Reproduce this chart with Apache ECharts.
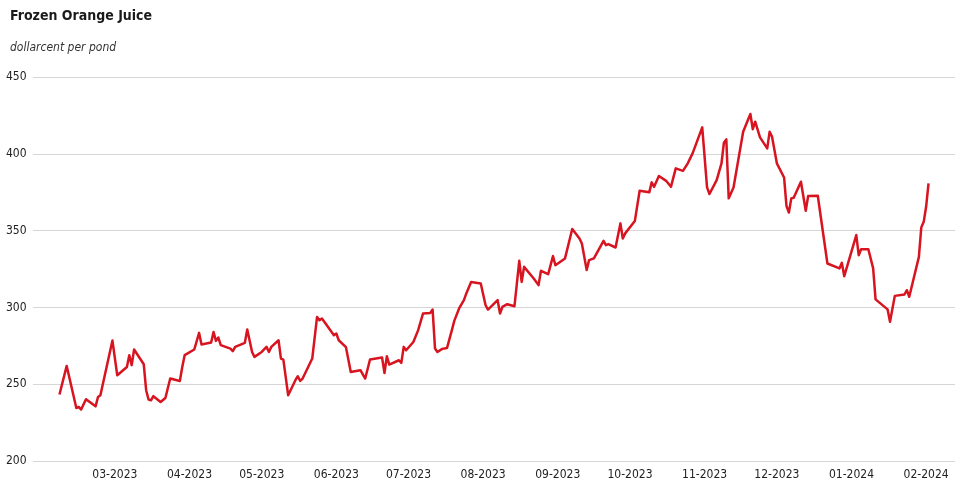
<!DOCTYPE html>
<html>
<head>
<meta charset="utf-8">
<script src="https://cdn.jsdelivr.net/npm/echarts@6/dist/echarts.min.js"></script>
<style>
  html, body { margin: 0; padding: 0; background: #fff; }
  #chart { width: 962px; height: 503px; }
</style>
</head>
<body>
<div id="chart"></div>
<script>
const titleText = 'Frozen Orange Juice';
const unitText = 'dollarcent per pond';

const dates = [
  '2023-02-06','2023-02-09','2023-02-13','2023-02-14','2023-02-15','2023-02-17','2023-02-21','2023-02-22','2023-02-23','2023-02-28',
  '2023-03-02','2023-03-06','2023-03-07','2023-03-08','2023-03-09','2023-03-13','2023-03-14','2023-03-15','2023-03-16','2023-03-17',
  '2023-03-20','2023-03-22','2023-03-24','2023-03-28','2023-03-29','2023-03-30','2023-04-03','2023-04-05','2023-04-06','2023-04-10',
  '2023-04-11','2023-04-12','2023-04-13','2023-04-14','2023-04-18','2023-04-19','2023-04-20','2023-04-24','2023-04-25','2023-04-27',
  '2023-04-28','2023-05-01','2023-05-03','2023-05-04','2023-05-05','2023-05-08','2023-05-09','2023-05-10','2023-05-12','2023-05-15',
  '2023-05-16','2023-05-17','2023-05-18','2023-05-22','2023-05-24','2023-05-25','2023-05-26','2023-05-27','2023-05-31','2023-06-01',
  '2023-06-02','2023-06-05','2023-06-07','2023-06-11','2023-06-13','2023-06-15','2023-06-20','2023-06-21','2023-06-22','2023-06-23',
  '2023-06-27','2023-06-28','2023-06-29','2023-06-30','2023-07-03','2023-07-05','2023-07-07','2023-07-10','2023-07-11','2023-07-12',
  '2023-07-13','2023-07-15','2023-07-17','2023-07-19','2023-07-20','2023-07-22','2023-07-24','2023-07-25','2023-07-27','2023-07-31',
  '2023-08-02','2023-08-03','2023-08-07','2023-08-08','2023-08-09','2023-08-11','2023-08-14','2023-08-16','2023-08-17','2023-08-18',
  '2023-08-22','2023-08-24','2023-08-25','2023-08-28','2023-08-30','2023-08-31','2023-09-04','2023-09-07','2023-09-10','2023-09-11',
  '2023-09-13','2023-09-14','2023-09-16','2023-09-20','2023-09-21','2023-09-22','2023-09-25','2023-09-27','2023-09-28','2023-09-29',
  '2023-10-03','2023-10-05','2023-10-09','2023-10-10','2023-10-11','2023-10-13','2023-10-16','2023-10-18','2023-10-20','2023-10-23',
  '2023-10-25','2023-10-27','2023-10-31','2023-11-02','2023-11-03','2023-11-06','2023-11-08','2023-11-09','2023-11-10','2023-11-11',
  '2023-11-13','2023-11-17','2023-11-20','2023-11-21','2023-11-22','2023-11-24','2023-11-27','2023-11-28','2023-11-29','2023-12-01',
  '2023-12-04','2023-12-05','2023-12-06','2023-12-07','2023-12-08','2023-12-11','2023-12-13','2023-12-14','2023-12-18','2023-12-22',
  '2023-12-27','2023-12-28','2023-12-29','2024-01-03','2024-01-04','2024-01-05','2024-01-08','2024-01-10','2024-01-11','2024-01-16',
  '2024-01-17','2024-01-19','2024-01-23','2024-01-24','2024-01-25','2024-01-29','2024-01-30','2024-01-31','2024-02-01','2024-02-02'
];

const prices = [
  243.3,261.9,234.5,235.2,233.5,240.2,235.6,241.7,242.8,278.4,
  255.8,261.2,268.9,262.4,272.6,263.0,246.1,240.0,239.5,242.2,
  238.4,241.0,253.7,252.1,261.2,268.9,272.6,283.4,275.8,277.1,
  284.0,278.2,280.4,275.4,273.2,271.5,274.3,276.9,285.6,271.0,
  267.8,271.0,274.3,271.0,274.3,278.6,266.7,266.0,242.8,252.6,
  255.2,252.1,253.7,266.7,293.8,291.7,292.8,290.6,281.9,283.0,
  278.6,274.1,258.0,259.1,253.7,266.1,267.4,257.3,268.2,262.8,
  265.6,263.9,274.3,272.1,277.5,285.2,296.0,296.4,298.6,273.2,
  271.0,273.0,273.6,285.2,291.2,299.3,304.7,309.1,316.6,315.6,
  301.4,298.6,304.7,296.0,300.3,302.1,300.8,330.3,316.6,326.4,
  318.8,314.5,323.8,321.6,333.4,327.5,331.9,351.0,344.9,341.6,
  324.3,330.8,331.9,343.3,340.5,341.2,339.0,354.7,344.9,348.2,
  356.2,375.9,374.9,381.4,378.5,385.5,382.4,378.5,390.5,388.9,
  393.8,400.3,417.2,378.1,373.8,382.9,393.8,407.2,409.4,371.0,
  378.1,414.4,425.9,416.0,420.9,410.7,403.5,414.4,411.1,393.8,
  384.6,365.9,361.8,371.0,371.4,381.8,362.9,372.5,372.7,328.6,
  325.4,329.0,320.3,347.1,334.0,337.9,337.9,325.4,305.2,298.7,
  290.6,307.5,308.4,311.2,306.9,332.9,352.1,355.7,365.5,380.7
];

const monthTicks = ['2023-03-01','2023-04-01','2023-05-01','2023-06-01','2023-07-01','2023-08-01',
  '2023-09-01','2023-10-01','2023-11-01','2023-12-01','2024-01-01','2024-02-01'];
const xRange = ['2023-01-26', '2024-02-13'];
const yTicks = [200, 250, 300, 350, 400, 450];

function parseDate(s) {
  const p = s.split('-').map(Number);
  return Date.UTC(p[0], p[1] - 1, p[2]);
}
function pad(n) { return (n < 10 ? '0' : '') + n; }

const FONT = '"DejaVu Sans Condensed", "Roboto", sans-serif';

const chart = echarts.init(document.getElementById('chart'), null, { renderer: 'canvas' });
chart.setOption({
  backgroundColor: '#ffffff',
  animation: false,
  title: [
    { text: titleText, left: 5, top: 4,
      textStyle: { fontFamily: FONT, fontSize: 14, fontWeight: 'bold', color: '#1a1a1a' } },
    { text: unitText, left: 5, top: 37,
      textStyle: { fontFamily: FONT, fontSize: 12, fontWeight: 'normal', fontStyle: 'italic', color: '#333' } }
  ],
  grid: { left: 33, right: 7, top: 77, bottom: 42, containLabel: false, outerBoundsMode: 'none' },
  xAxis: {
    type: 'value',
    min: parseDate(xRange[0]),
    max: parseDate(xRange[1]),
    axisLine: { show: false },
    axisTick: { show: false },
    splitLine: { show: false },
    axisLabel: {
      customValues: monthTicks.map(parseDate),
      formatter: function (v) { const d = new Date(v); return pad(d.getUTCMonth() + 1) + '-' + d.getUTCFullYear(); },
      fontFamily: FONT, fontSize: 12, color: '#222', margin: 8, hideOverlap: false
    }
  },
  yAxis: {
    type: 'value',
    min: yTicks[0],
    max: yTicks[yTicks.length - 1],
    interval: 50,
    axisLine: { show: false },
    axisTick: { show: false },
    splitLine: { show: true, lineStyle: { color: '#d6d6d6', width: 1 } },
    axisLabel: { fontFamily: FONT, fontSize: 12, color: '#222', align: 'left', margin: 27 }
  },
  series: [{
    type: 'line',
    data: dates.map((d, i) => [parseDate(d), prices[i]]),
    showSymbol: false,
    symbol: 'none',
    lineStyle: { color: '#d7141f', width: 2.5, join: 'round' },
    itemStyle: { color: '#d7141f' }
  }]
});
</script>
</body>
</html>
